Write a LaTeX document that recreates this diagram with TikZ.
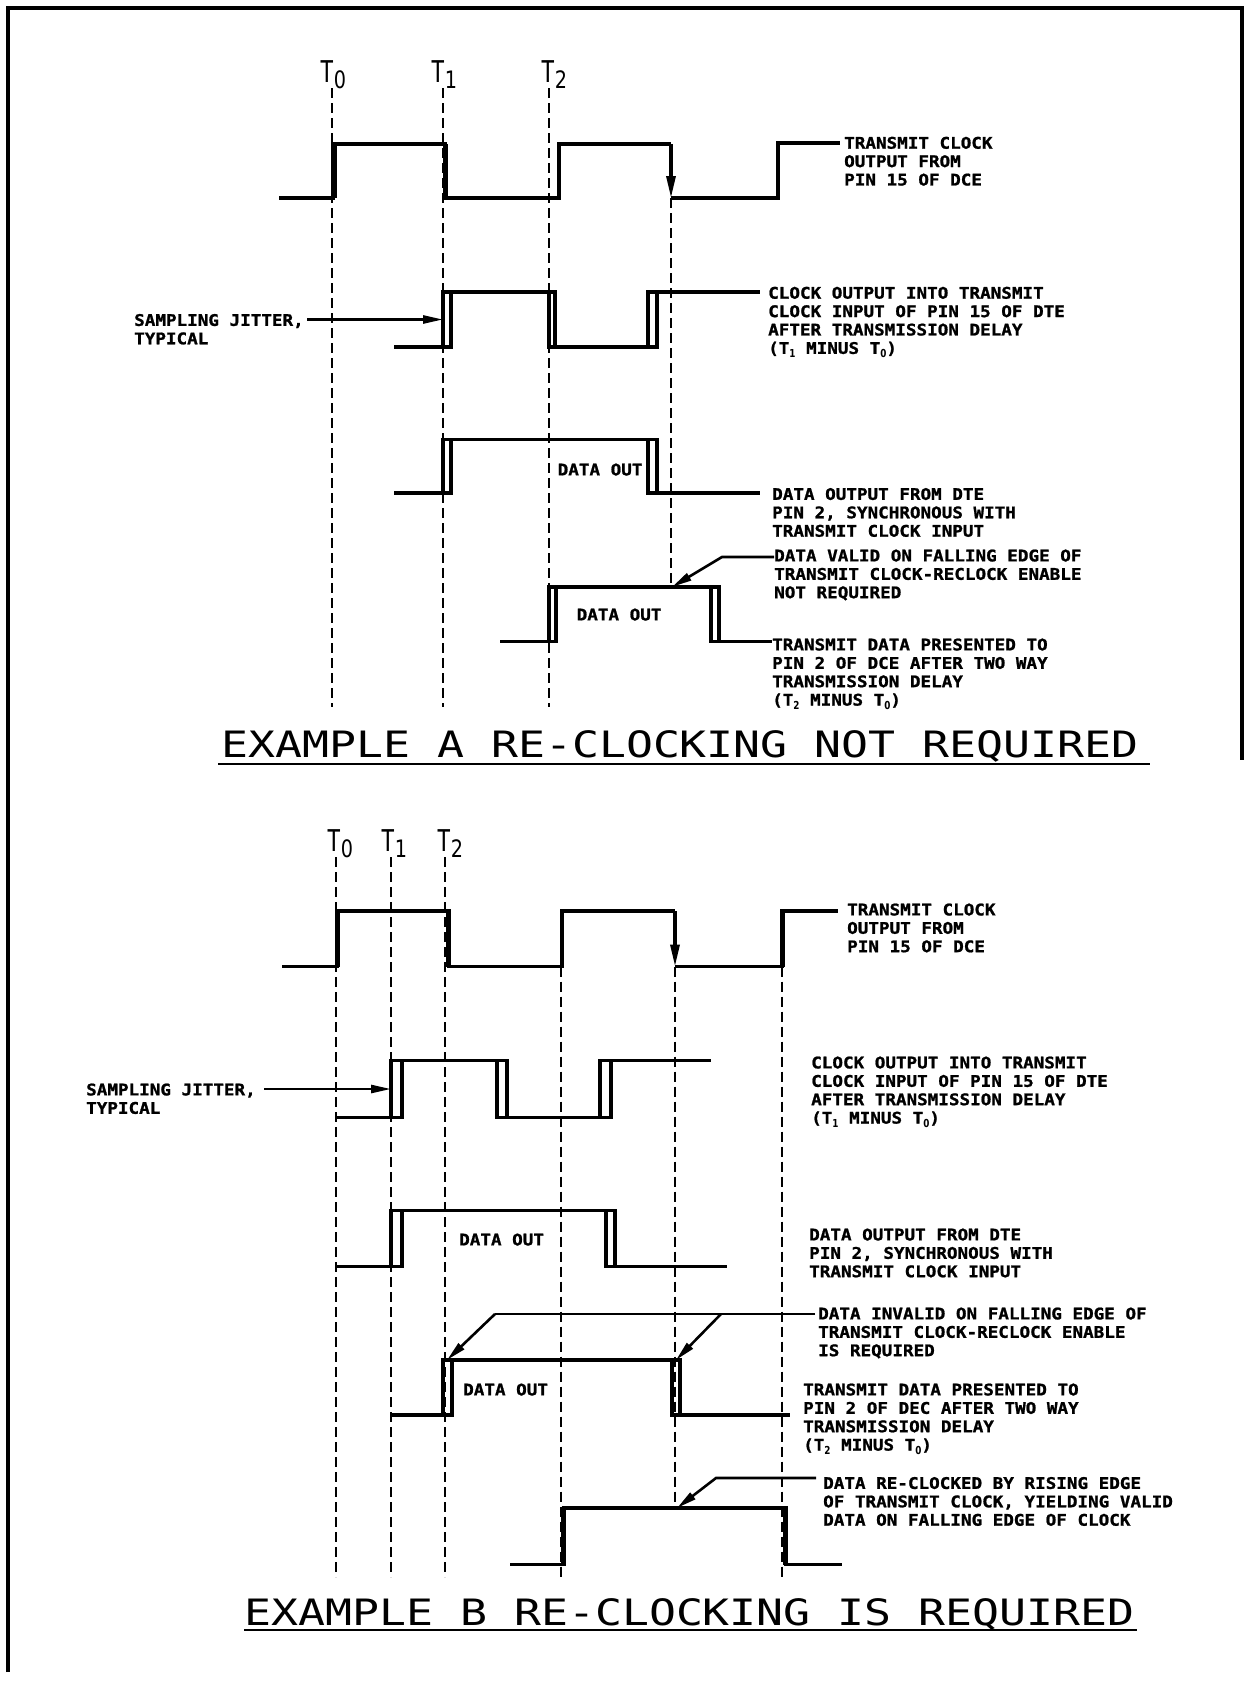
\documentclass[tikz,border=0pt]{standalone}
\usepackage{fontspec}
\usetikzlibrary{arrows.meta}
\newfontfamily\lblfont{DejaVu Sans Mono}[FakeStretch=1.1,FakeBold=1.2]
\newfontfamily\ttlfont{DejaVu Sans Mono}[FakeStretch=1.235]
\newfontfamily\tfont{DejaVu Sans Mono}[FakeStretch=0.75]
\newfontfamily\subfont{DejaVu Sans}[FakeStretch=0.8]
\newcommand\mysub[1]{\raisebox{-4pt}{\subfont\bfseries\fontsize{11}{11}\selectfont #1}}
\newcommand\tlab[1]{{\fontsize{30}{30}\selectfont T\raisebox{-6.5pt}{\subfont\fontsize{24}{24}\selectfont #1}}}
\begin{document}
\begin{tikzpicture}[x=1pt,y=-1pt,
  wave/.style={line width=3.2pt, line join=miter},
  bar/.style={line width=1.2pt, fill=black},
  dsh/.style={line width=2.3pt, dash pattern=on 10pt off 5pt},
  lead/.style={line width=2.6pt},
  lbl/.style={anchor=north west, inner sep=0pt, align=left, font=\lblfont\bfseries\fontsize{16}{18.4}\selectfont},
  ttl/.style={anchor=base west, inner sep=0pt, font=\ttlfont\fontsize{36.3}{36.3}\selectfont},
  tl/.style={anchor=base west, inner sep=0pt, font=\tfont},
  clkarrow/.style={-{Triangle[length=22pt,width=9pt]}},
  ldarrow/.style={-{Triangle[length=20pt,width=8pt]}}]
\useasboundingbox (0,0) rectangle (1249,1681);
% frame
\draw[line width=3.4pt] (8,1672) -- (8,8) -- (1242,8) -- (1242,760);

% ================= EXAMPLE A =================
\node[tl] (tA0) at (320,82) {\tlab{0}};
\node[tl] (tA1) at (431,82) {\tlab{1}};
\node[tl] (tA2) at (541,82) {\tlab{2}};
\draw[dsh] (332,88) -- (332,707);
\draw[dsh] (443,88) -- (443,707);
\draw[dsh] (549,88) -- (549,707);
\draw[dsh] (671,198) -- (671,587);

% row 1 clock
\draw[wave] (279,198) -- (333,198) -- (333,144) -- (445,144) -- (445,198) -- (559,198) -- (559,144) -- (671,144);
\draw[wave,clkarrow] (671,144) -- (671,198);
\draw[wave] (671,198) -- (778,198) -- (778,143) -- (840,143);
\fill[bar] (332,144) rectangle (337,198);
\fill[bar] (443,144) rectangle (448,198);
\node[lbl] (lA1) at (844,136.6) {TRANSMIT CLOCK\\OUTPUT FROM\\PIN 15 OF DCE};

% row 2
\draw[wave] (394,347) -- (451,347) (443,292) rectangle (451,347)
  (443,292) -- (555,292) (549,292) rectangle (555,347)
  (549,347) -- (657,347) (648,292) rectangle (657,347)
  (648,292) -- (760,292);
\node[lbl] (lA2) at (768,286.6) {CLOCK OUTPUT INTO TRANSMIT\\CLOCK INPUT OF PIN 15 OF DTE\\AFTER TRANSMISSION DELAY\\(T\mysub{1} MINUS T\mysub{0})};
\node[lbl] (sjA) at (134,313.8) {SAMPLING JITTER,\\TYPICAL};
\coordinate (sjAtip) at (443,319.5);
\draw[lead,ldarrow] (307,319.5) -- (sjAtip);

% row 3
\draw[wave] (394,493) -- (451,493) (443,439.5) rectangle (451,493)
  (443,439.5) -- (657,439.5) (648,439.5) rectangle (657,493)
  (648,493) -- (760,493);
\node[lbl] (doA3) at (557.5,463.3) {DATA OUT};
\node[lbl] (lA3) at (772,487.8) {DATA OUTPUT FROM DTE\\PIN 2, SYNCHRONOUS WITH\\TRANSMIT CLOCK INPUT};

% row 4
\draw[wave] (500,641.5) -- (556,641.5) (549,587) rectangle (556,641.5)
  (549,587) -- (719,587) (711,587) rectangle (719,641.5)
  (711,641.5) -- (772,641.5);
\node[lbl] (doA4) at (576.5,608.3) {DATA OUT};
\node[lbl] (dvA) at (774,549.3) {DATA VALID ON FALLING EDGE OF\\TRANSMIT CLOCK-RECLOCK ENABLE\\NOT REQUIRED};
\coordinate (dvAtip) at (672,587);
\draw[lead,ldarrow] (dvA.north west |- 0,557) -- (722,557) -- (dvAtip);
\node[lbl] (lA4) at (772,638.3) {TRANSMIT DATA PRESENTED TO\\PIN 2 OF DCE AFTER TWO WAY\\TRANSMISSION DELAY\\(T\mysub{2} MINUS T\mysub{0})};

% title A
\node[ttl] (titA) at (221,757) {EXAMPLE A RE-CLOCKING NOT REQUIRED};
\draw[line width=2.8pt] (218,764) -- (1150,764);

% ================= EXAMPLE B =================
\node[tl] (tB0) at (327,851) {\tlab{0}};
\node[tl] (tB1) at (381,851) {\tlab{1}};
\node[tl] (tB2) at (437,851) {\tlab{2}};
\draw[dsh] (336,857) -- (336,1577);
\draw[dsh] (391,857) -- (391,1577);
\draw[dsh] (445,857) -- (445,1577);
\draw[dsh] (561,966.5) -- (561,1577);
\draw[dsh] (675,966.5) -- (675,1508);
\draw[dsh] (782,966.5) -- (782,1577);

% row 1 clock
\draw[wave] (282,966.5) -- (337,966.5) -- (337,911) -- (449,911) -- (449,966.5) -- (562,966.5) -- (562,911) -- (675,911);
\draw[wave,clkarrow] (675,911) -- (675,966.5);
\draw[wave] (675,966.5) -- (782,966.5) -- (782,911) -- (838,911);
\fill[bar] (335,911) rectangle (340,966.5);
\fill[bar] (446,911) rectangle (451,966.5);
\fill[bar] (559.5,911) rectangle (564,966.5);
\fill[bar] (780,911) rectangle (784.5,966.5);
\node[lbl] (lB1) at (847,903.3) {TRANSMIT CLOCK\\OUTPUT FROM\\PIN 15 OF DCE};

% row 2
\draw[wave] (337,1117.5) -- (402,1117.5) (391,1060.5) rectangle (402,1117.5)
  (391,1060.5) -- (507,1060.5) (497,1060.5) rectangle (507,1117.5)
  (497,1117.5) -- (611,1117.5) (600,1060.5) rectangle (611,1117.5)
  (600,1060.5) -- (711,1060.5);
\node[lbl] (lB2) at (811,1056.3) {CLOCK OUTPUT INTO TRANSMIT\\CLOCK INPUT OF PIN 15 OF DTE\\AFTER TRANSMISSION DELAY\\(T\mysub{1} MINUS T\mysub{0})};
\node[lbl] (sjB) at (86,1083.3) {SAMPLING JITTER,\\TYPICAL};
\coordinate (sjBtip) at (391,1089);
\draw[lead,ldarrow] (264,1089) -- (sjBtip);

% row 3
\draw[wave] (337,1266.5) -- (402,1266.5) (391,1210.5) rectangle (402,1266.5)
  (391,1210.5) -- (615,1210.5) (606,1210.5) rectangle (615,1266.5)
  (606,1266.5) -- (727,1266.5);
\node[lbl] (doB3) at (459,1233.3) {DATA OUT};
\node[lbl] (lB3) at (809,1228.3) {DATA OUTPUT FROM DTE\\PIN 2, SYNCHRONOUS WITH\\TRANSMIT CLOCK INPUT};

% row 4
\draw[wave] (391,1415) -- (452,1415) (443,1360) rectangle (452,1415)
  (443,1360) -- (680,1360) (672,1360) rectangle (680,1415)
  (672,1415) -- (790,1415);
\node[lbl] (doB4) at (463,1383.3) {DATA OUT};
\node[lbl] (ivB) at (818,1307.3) {DATA INVALID ON FALLING EDGE OF\\TRANSMIT CLOCK-RECLOCK ENABLE\\IS REQUIRED};
\coordinate (ivBtip1) at (447,1360);
\coordinate (ivBtip2) at (676,1360);
\draw[lead] (815,1314) -- (495,1314);
\draw[lead,ldarrow] (495,1314) -- (ivBtip1);
\draw[lead,ldarrow] (721,1314) -- (ivBtip2);
\node[lbl] (lB4) at (803,1383.3) {TRANSMIT DATA PRESENTED TO\\PIN 2 OF DEC AFTER TWO WAY\\TRANSMISSION DELAY\\(T\mysub{2} MINUS T\mysub{0})};

% row 5
\draw[wave] (510,1564.5) -- (564,1564.5) -- (564,1508) -- (786,1508) -- (786,1564.5) -- (842,1564.5);
\fill[bar] (561,1508) rectangle (566,1564.5);
\fill[bar] (783,1508) rectangle (788,1564.5);
\node[lbl] (rcB) at (823,1476.8) {DATA RE-CLOCKED BY RISING EDGE\\OF TRANSMIT CLOCK, YIELDING VALID\\DATA ON FALLING EDGE OF CLOCK};
\coordinate (rcBtip) at (677,1508);
\draw[lead,ldarrow] (816,1478) -- (716,1478) -- (rcBtip);

% title B
\node[ttl] (titB) at (244,1625) {EXAMPLE B RE-CLOCKING IS REQUIRED};
\draw[line width=2.8pt] (244,1630) -- (1137,1630);
\end{tikzpicture}
\end{document}
